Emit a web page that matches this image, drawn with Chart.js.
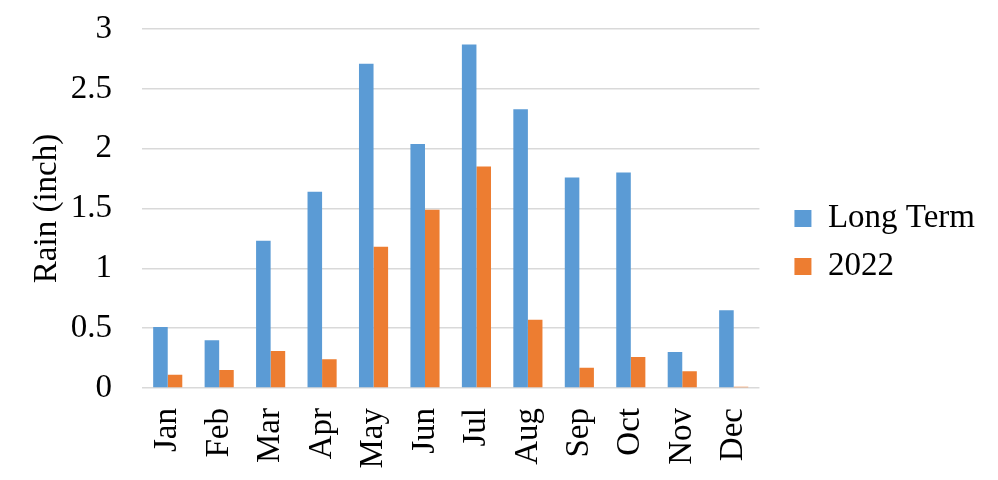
<!DOCTYPE html>
<html>
<head>
<meta charset="utf-8">
<script src="https://cdn.jsdelivr.net/npm/chart.js@4/dist/chart.umd.min.js"></script>
<style>
	html, body { margin: 0; padding: 0; background: #fff; }
	#wrap { width: 998px; height: 480px; }
</style>
</head>
<body>
<div id="wrap"><canvas id="myChart"></canvas></div>
<script>
// 데이터
var months = ['Jan', 'Feb', 'Mar', 'Apr', 'May', 'Jun', 'Jul', 'Aug', 'Sep', 'Oct', 'Nov', 'Dec'];
var long_term = [0.51, 0.40, 1.23, 1.64, 2.71, 2.04, 2.87, 2.33, 1.76, 1.80, 0.30, 0.65];
var rain_2022 = [0.11, 0.15, 0.31, 0.24, 1.18, 1.49, 1.85, 0.57, 0.17, 0.26, 0.14, 0.01];
var y_ticks = [0, 0.5, 1, 1.5, 2, 2.5, 3];
var y_tick_labels = ['0', '0.5', '1', '1.5', '2', '2.5', '3'];

var serif = "'Liberation Serif', 'Times New Roman', serif";

// 범례 위치 보정
const legendShift = {
	id: 'legendShift',
	afterLayout(chart) {
		chart.legend.left += 20;
		chart.legend.right += 20;
		chart.legend.top -= 12;
		chart.legend.bottom -= 12;
	}
};

const chartArea = document.getElementById('myChart').getContext('2d');
const myChart = new Chart(chartArea, {
	type: 'bar',
	data: {
		labels: months,
		datasets: [{
			label: 'Long Term',
			data: long_term,
			backgroundColor: '#5b9bd5',
			borderWidth: 0
		}, {
			label: '2022',
			data: rain_2022,
			backgroundColor: '#ed7d31',
			borderWidth: 0
		}]
	},
	plugins: [legendShift],
	options: {
		responsive: true,
		maintainAspectRatio: false,
		animation: false,
		layout: {
			padding: { left: 0, right: 33, top: 29, bottom: 0 }
		},
		datasets: {
			bar: {
				barPercentage: 1,
				categoryPercentage: 0.566
			}
		},
		plugins: {
			legend: {
				position: 'right',
				labels: {
					color: '#000',
					boxWidth: 17,
					boxHeight: 17,
					padding: 15,
					font: { family: serif, size: 33 }
				}
			},
			tooltip: { enabled: false }
		},
		scales: {
			x: {
				grid: { display: false },
				border: { display: false },
				ticks: {
					color: '#000',
					minRotation: 90,
					maxRotation: 90,
					padding: 12,
					font: { family: serif, size: 33 }
				},
				afterFit: function (scale) { scale.height = 92; }
			},
			y: {
				min: 0,
				max: 3,
				afterBuildTicks: function (scale) {
					scale.ticks = y_ticks.map(v => ({ value: v }));
				},
				grid: {
					color: '#d9d9d9',
					lineWidth: 1.5,
					drawTicks: false
				},
				border: { display: false },
				ticks: {
					color: '#000',
					padding: 30,
					font: { family: serif, size: 33 },
					callback: function (value, index) { return y_tick_labels[index]; }
				},
				title: {
					display: true,
					text: 'Rain (inch)',
					color: '#000',
					padding: { top: 28, bottom: 0 },
					font: { family: serif, size: 33 }
				},
				afterFit: function (scale) {
					scale.width = 142;
					scale.paddingTop = 0;
				}
			}
		}
	}
});
</script>
</body>
</html>
